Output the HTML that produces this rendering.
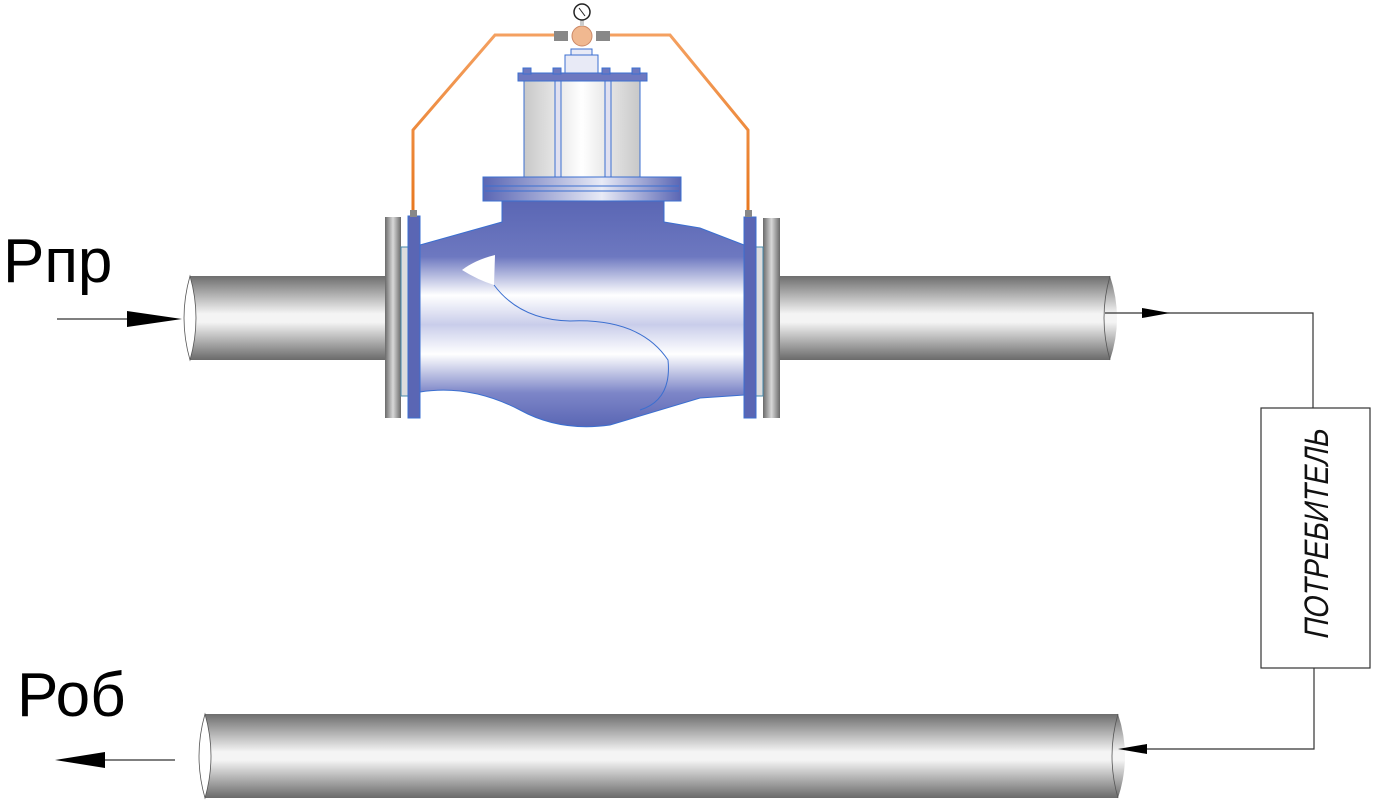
<!DOCTYPE html>
<html><head><meta charset="utf-8"><style>
html,body{margin:0;padding:0;background:#fff;}
svg{display:block}
</style></head><body>
<svg width="1374" height="800" viewBox="0 0 1374 800" xmlns="http://www.w3.org/2000/svg">
<defs>
<linearGradient id="pipe" x1="0" y1="0" x2="0" y2="1">
<stop offset="0" stop-color="#6e6e6e"/><stop offset="0.45" stop-color="#f4f4f4"/><stop offset="0.55" stop-color="#f4f4f4"/><stop offset="1" stop-color="#6a6a6a"/>
</linearGradient>
<linearGradient id="flg" x1="0" y1="0" x2="1" y2="0">
<stop offset="0" stop-color="#6a6a6a"/><stop offset="0.5" stop-color="#d8d8d8"/><stop offset="1" stop-color="#6a6a6a"/>
</linearGradient>
<linearGradient id="body" x1="0" y1="0" x2="0" y2="1">
<stop offset="0" stop-color="#5a66b4"/><stop offset="0.25" stop-color="#6d78c0"/><stop offset="0.42" stop-color="#ffffff"/><stop offset="0.55" stop-color="#c9cdea"/><stop offset="0.68" stop-color="#ffffff"/><stop offset="0.85" stop-color="#7d86c8"/><stop offset="1" stop-color="#5a66b4"/>
</linearGradient>
<linearGradient id="bon" x1="0" y1="0" x2="1" y2="0">
<stop offset="0" stop-color="#5a66b4"/><stop offset="0.6" stop-color="#e8eaf6"/><stop offset="1" stop-color="#5a66b4"/>
</linearGradient>
<linearGradient id="cyl" x1="0" y1="0" x2="1" y2="0">
<stop offset="0" stop-color="#c8c8c8"/><stop offset="0.5" stop-color="#ffffff"/><stop offset="1" stop-color="#c8c8c8"/>
</linearGradient>
<linearGradient id="tube" x1="0" y1="0" x2="0" y2="1">
<stop offset="0" stop-color="#f4a060"/><stop offset="1" stop-color="#e87820"/>
</linearGradient>
</defs>

<!-- top pipe -->
<path d="M190 276 H386 V360 H190 Q178 318 190 276Z" fill="url(#pipe)"/>
<path d="M190 276 Q178 318 190 360 Q202 318 190 276Z" fill="#fff" stroke="#555" stroke-width="0.8"/>
<path d="M780 276 H1110 Q1124 318 1110 360 H780Z" fill="url(#pipe)"/>
<path d="M1110 276 Q1098 318 1110 360" fill="none" stroke="#555" stroke-width="0.8"/>
<!-- bottom pipe -->
<path d="M205 714 H1118 Q1132 756 1118 798 H205 Q193 756 205 714Z" fill="url(#pipe)"/>
<path d="M205 714 Q193 756 205 798 Q217 756 205 714Z" fill="#fff" stroke="#555" stroke-width="0.8"/>
<path d="M1118 714 Q1106 756 1118 798" fill="none" stroke="#555" stroke-width="0.8"/>

<!-- flanges -->
<rect x="385" y="217" width="16" height="201" fill="url(#flg)"/>
<rect x="401" y="247" width="7" height="149" fill="#ddd" stroke="#48a" stroke-width="1"/>
<rect x="763" y="218" width="17" height="200" fill="url(#flg)"/>
<rect x="756" y="247" width="7" height="149" fill="#ddd" stroke="#48a" stroke-width="1"/>

<!-- valve body -->
<path d="M420 245 L502 222 L502 200 L664 200 L664 222 L700 228 L744 245 L744 395 L700 398 L610 425 Q560 432 520 410 Q470 384 420 392Z" fill="url(#body)" stroke="#3b6fd0" stroke-width="1"/>
<path d="M462 270 Q475 260 495 255 L494 285 Q478 280 462 270Z" fill="#fff"/>
<path d="M494 285 Q520 320 570 321 Q640 318 668 360 Q672 400 640 410" fill="none" stroke="#3b6fd0" stroke-width="1"/>
<rect x="408" y="216" width="12" height="202" fill="#5a66b4" stroke="#3b6fd0"/>
<rect x="744" y="217" width="12" height="201" fill="#5a66b4" stroke="#3b6fd0"/>
<!-- bonnet -->
<rect x="483" y="177" width="198" height="24" fill="url(#bon)" stroke="#3b6fd0"/>
<line x1="485" y1="186" x2="679" y2="186" stroke="#3b6fd0"/>
<line x1="485" y1="191" x2="679" y2="191" stroke="#3b6fd0"/>
<rect x="524" y="80" width="116" height="97" fill="url(#cyl)" stroke="#3b6fd0"/>
<rect x="555" y="80" width="6" height="97" fill="#e0e0f0" stroke="#3b6fd0"/>
<rect x="605" y="80" width="6" height="97" fill="#e0e0f0" stroke="#3b6fd0"/>
<rect x="518" y="73" width="129" height="8" fill="#6d78c0" stroke="#3b6fd0"/>
<rect x="565" y="55" width="33" height="18" fill="#e8eaf6" stroke="#3b6fd0"/>
<rect x="571" y="49" width="21" height="6" fill="#e8eaf6" stroke="#3b6fd0"/>
<g fill="#6d78c0" stroke="#3b6fd0"><rect x="523" y="68" width="8" height="6"/><rect x="553" y="68" width="8" height="6"/><rect x="602" y="68" width="8" height="6"/><rect x="632" y="68" width="8" height="6"/></g>
<!-- tubes -->
<path d="M413 210 V130 L495 35 H555" fill="none" stroke="url(#tube)" stroke-width="3"/>
<path d="M748 210 V130 L670 35 H610" fill="none" stroke="url(#tube)" stroke-width="3"/>
<rect x="410" y="210" width="7" height="7" fill="#888"/>
<rect x="745" y="210" width="7" height="7" fill="#888"/>
<rect x="554" y="31" width="14" height="10" fill="#888"/>
<rect x="596" y="31" width="14" height="10" fill="#888"/>
<circle cx="582" cy="36" r="10" fill="#f0b890" stroke="#c86"/>
<rect x="580" y="20" width="4" height="6" fill="#ccc"/>
<circle cx="582" cy="12" r="8" fill="#fff" stroke="#222" stroke-width="1.5"/>
<line x1="579" y1="8" x2="585" y2="16" stroke="#222"/>

<!-- connectors -->
<g stroke="#333" stroke-width="1.2" fill="none">
<path d="M1105 313 H1313 V408"/>
<path d="M1314 668 V749 H1125"/>
<line x1="57" y1="319" x2="140" y2="319"/>
<line x1="100" y1="760" x2="175" y2="760"/>
</g>
<polygon points="1142,308 1170,313 1142,318" fill="#000"/>
<polygon points="1118,749 1147,744 1147,754" fill="#000"/>
<polygon points="127,311 182,319 127,327" fill="#000"/>
<polygon points="55,760 105,752 105,768" fill="#000"/>

<rect x="1261" y="408" width="109" height="260" fill="#fff" stroke="#333" stroke-width="1.2"/>
<text transform="translate(1328,640) rotate(-90) skewX(-12)" font-family="'Liberation Sans Narrow','Liberation Sans','DejaVu Sans',sans-serif" font-size="34" fill="#111" textLength="210" lengthAdjust="spacingAndGlyphs">ПОТРЕБИТЕЛЬ</text>

<text x="3" y="282" font-family="'Liberation Sans',sans-serif" font-size="62" fill="#000">Рпр</text>
<text x="17" y="716" font-family="'Liberation Sans',sans-serif" font-size="62" fill="#000">Роб</text>
</svg>
</body></html>
